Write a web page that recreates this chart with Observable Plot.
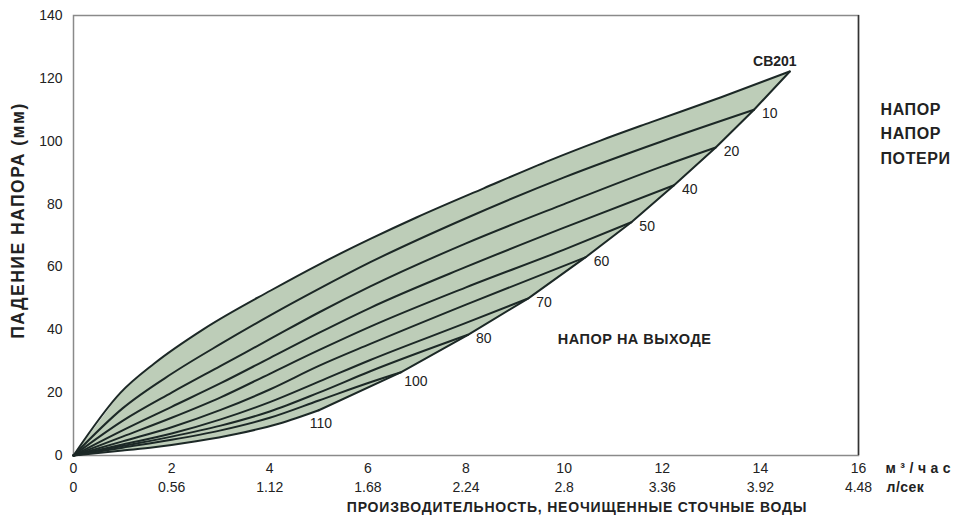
<!DOCTYPE html>
<html><head><meta charset="utf-8">
<script src="https://cdn.jsdelivr.net/npm/d3@7"></script>
<script src="https://cdn.jsdelivr.net/npm/@observablehq/plot@0.6"></script>
<style>html,body{margin:0;padding:0;background:#fff;overflow:hidden;width:964px;height:520px}</style>
</head><body><div id="chart"></div>
<script>
const flowTicks = [0, 2, 4, 6, 8, 10, 12, 14, 16];
const lpsLabels = ["0", "0.56", "1.12", "1.68", "2.24", "2.8", "3.36", "3.92", "4.48"];
const headTicks = [0, 20, 40, 60, 80, 100, 120, 140];
const seriesNames = ["CB201", "10", "20", "40", "50", "60", "70", "80", "100", "110"];
const legendLines = ["НАПОР", "НАПОР", "ПОТЕРИ"];
const xTitle = "ПРОИЗВОДИТЕЛЬНОСТЬ, НЕОЧИЩЕННЫЕ СТОЧНЫЕ ВОДЫ";
const yTitle = "ПАДЕНИЕ НАПОРА (мм)";
const outletTitle = "НАПОР НА ВЫХОДЕ";
const unitM3 = "м³/час";
const unitLps = "л/сек";

const curveCB201 = [[0,0],[0.96,20],[1.64,29.2],[2.66,40.3],[4.02,52.5],[5.03,61],[6.05,68.9],[7,75.8],[8.36,85],[9.72,94],[10.74,100.2],[11.76,106],[13.2,114],[14.6,122.2]];
const curve10 = [[0,0],[1,15],[2,26],[3,35.5],[4,44.5],[5,53],[6.05,61.5],[8,75.5],[10,88.5],[12,100],[13.87,110]];
const curve20 = [[0,0],[1,11],[2,20],[3,28.5],[4,37],[5,45.5],[6.05,53.8],[8,67.5],[10,80],[12,92],[13.09,98]];
const curve40 = [[0,0],[1,8],[2,15.5],[3,23],[4,31],[5,39],[6.05,47],[8,60],[10,72.5],[12.24,86]];
const curve50 = [[0,0],[1,6],[2,12],[3,18.5],[4,26],[5,33.5],[6.05,41],[8,53.5],[10,65.5],[11.37,74.2]];
const curve60 = [[0,0],[1,4.5],[2,9],[3,14.5],[4,21],[5,28.5],[6.05,35.5],[8,48],[10.44,63.1]];
const curve70 = [[0,0],[1,3.5],[2,7],[3,11.5],[4,17],[5,23.5],[6.05,30.4],[8,42.2],[9.27,50]];
const curve80 = [[0,0],[1,3],[2,6],[3,9.5],[4,14],[5,20],[6.05,26.8],[8.04,38.4]];
const curve100 = [[0,0],[1,2.5],[2,5],[3,8],[4,12],[5,17.5],[6.05,23.3],[6.68,26.5]];
const curve110 = [[0,0],[1,1.6],[1.64,2.6],[2.5,4.5],[3.34,6.9],[4.2,10.2],[5,14.4]];

const allCurves = [curveCB201, curve10, curve20, curve40, curve50, curve60, curve70, curve80, curve100, curve110];
const rows = allCurves.flatMap((pts, i) => pts.map(([x, y]) => ({series: seriesNames[i], x, y})));
const ends = allCurves.map((pts, i) => ({series: seriesNames[i], x: pts[pts.length - 1][0], y: pts[pts.length - 1][1]}));
const polygon = [...curveCB201, ...ends.slice(1).map(d => [d.x, d.y]), ...curve110.slice().reverse()];

const ink = "#1c2826";
const txt = "#222";
const fontFamily = "'Liberation Sans', Arial, Helvetica, sans-serif";
const legendStyle = {frameAnchor: "top-right", dx: 22, textAnchor: "start", lineAnchor: "middle", fontWeight: "bold", fontSize: 16, fill: txt};

const chart = Plot.plot({
  width: 964,
  height: 520,
  marginLeft: 73,
  marginRight: 106,
  marginTop: 15,
  marginBottom: 65,
  style: {fontFamily, fontSize: "14px", color: txt, background: "#fff", overflow: "hidden"},
  x: {domain: [0, 16]},
  y: {domain: [0, 140]},
  marks: [
    Plot.frame({stroke: "#8a8a8a", strokeWidth: 1.5}),
    Plot.ruleX([16], {stroke: "#333", strokeWidth: 1.5}),
    Plot.line(polygon, {x: d => d[0], y: d => d[1], fill: "#bdcdb8", stroke: "none"}),
    Plot.line(rows, {x: "x", y: "y", z: "series", stroke: ink, strokeWidth: 2, curve: "monotone-x"}),
    Plot.line(ends, {x: "x", y: "y", stroke: ink, strokeWidth: 2}),
    Plot.axisY(headTicks, {tickSize: 0, tickPadding: 11, fontSize: 14, label: null, fill: txt}),
    Plot.axisX(flowTicks, {tickSize: 0, tickPadding: 8, fontSize: 14, label: null, fill: txt}),
    Plot.axisX(flowTicks, {tickSize: 0, tickPadding: 8, dy: 19, fontSize: 14, label: null, fill: txt, tickFormat: (d, i) => lpsLabels[i]}),
    Plot.text([unitM3], {frameAnchor: "bottom-right", dx: 27, dy: 13, textAnchor: "start", lineAnchor: "middle", fontWeight: "bold", fontSize: 14, fill: txt}),
    Plot.text([unitLps], {frameAnchor: "bottom-right", dx: 28, dy: 32, textAnchor: "start", lineAnchor: "middle", fontWeight: "bold", fontSize: 14, fill: txt}),
    Plot.text([xTitle], {frameAnchor: "bottom", lineAnchor: "middle", dx: 111, dy: 52, fontWeight: "bold", fontSize: 14, fill: txt}),
    Plot.text([yTitle], {frameAnchor: "left", textAnchor: "middle", lineAnchor: "middle", dx: -55, dy: -15, rotate: -90, fontWeight: "bold", fontSize: 17.5, fill: txt}),
    Plot.text(ends.slice(0, 1), {x: "x", y: "y", text: "series", dx: -15, dy: -10, fontWeight: "bold", fontSize: 14, fill: txt}),
    Plot.text(ends.slice(1, 8), {x: "x", y: "y", text: "series", dx: 8, dy: 4, textAnchor: "start", fontSize: 14, fill: txt}),
    Plot.text(ends.slice(8, 9), {x: "x", y: "y", text: "series", dx: 3, dy: 9, textAnchor: "start", fontSize: 14, fill: txt}),
    Plot.text(ends.slice(9, 10), {x: "x", y: "y", text: "series", dx: -9, dy: 13, textAnchor: "start", fontSize: 14, fill: txt}),
    Plot.text([outletTitle], {x: 9.87, y: 37, textAnchor: "start", fontWeight: "bold", fontSize: 14.5, fill: txt}),
    Plot.text(legendLines.slice(0, 1), {...legendStyle, dy: 94}),
    Plot.text(legendLines.slice(1, 2), {...legendStyle, dy: 118}),
    Plot.text(legendLines.slice(2, 3), {...legendStyle, dy: 143})
  ]
});
document.getElementById("chart").appendChild(chart);

// letter spacing (not a Plot option): applied to the rendered texts
const spacing = new Map([[xTitle, "0.8px"], [yTitle, "1.5px"], [unitM3, "4.5px"], [outletTitle, "0.5px"], ["НАПОР", "0.6px"], ["ПОТЕРИ", "0.6px"], [unitLps, "0.5px"]]);
d3.select(chart).selectAll("text").each(function () {
  const s = spacing.get(this.textContent);
  if (s) this.setAttribute("letter-spacing", s);
});
</script>
</body></html>
